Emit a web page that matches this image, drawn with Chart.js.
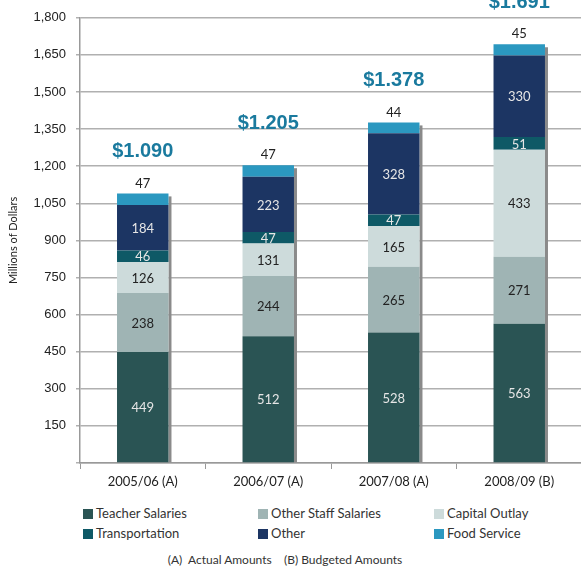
<!DOCTYPE html>
<html>
<head>
<meta charset="utf-8">
<script src="https://cdn.jsdelivr.net/npm/chart.js@4.4.0/dist/chart.umd.min.js"></script>
<style>
  html, body { margin: 0; padding: 0; background: #fff; overflow: hidden; }
  #wrap { position: relative; width: 582px; height: 500px; }
  #legend { position: absolute; left: 0; top: 504px; width: 581px; height: 44px; font-family: Lato, sans-serif; font-size: 13px; color: #333; }
  .item { position: absolute; height: 18px; line-height: 18px; white-space: nowrap; }
  .box { display: inline-block; width: 10px; height: 10px; margin-right: 3px; vertical-align: -1px; }
  #note { position: absolute; left: 0; top: 552px; width: 570px; text-align: center; font-family: Lato, sans-serif; font-size: 12px; color: #333; }
</style>
</head>
<body>
<div id="wrap"><canvas id="budget-chart"></canvas></div>
<div id="legend"></div>
<div id="note">(A)&nbsp; Actual Amounts &nbsp;&nbsp; (B) Budgeted Amounts</div>
<script>
var years = ['2005/06 (A)', '2006/07 (A)', '2007/08 (A)', '2008/09 (B)'];
var totals = ['$1.090', '$1.205', '$1.378', '$1.691'];
var seriesNames = ['Teacher Salaries', 'Other Staff Salaries', 'Capital Outlay', 'Transportation', 'Other', 'Food Service'];
var teacherSalaries = [449, 512, 528, 563];
var otherStaffSalaries = [238, 244, 265, 271];
var capitalOutlay = [126, 131, 165, 433];
var transportation = [46, 47, 47, 51];
var other = [184, 223, 328, 330];
var foodService = [47, 47, 44, 45];
var seriesColors = ['#2a5454', '#9fb4b4', '#cddbdb', '#0e5966', '#1c3563', '#2b98c0'];
// label colour inside each segment (light on dark fills, dark on light fills)
var labelColors = ['#e6e6e6', '#222', '#222', '#e6e6e6', '#e6e6e6', '#222'];

var seriesData = [teacherSalaries, otherStaffSalaries, capitalOutlay, transportation, other, foodService];

// shadow to the right of each stacked bar
var barShadow = {
    id: 'barShadow',
    beforeDatasetsDraw: function (chart) {
        var ctx = chart.ctx;
        var topMeta = chart.getDatasetMeta(chart.data.datasets.length - 1);
        var baseMeta = chart.getDatasetMeta(0);
        ctx.save();
        ctx.fillStyle = '#8a8a8a';
        for (var i = 0; i < topMeta.data.length; i++) {
            var top = topMeta.data[i];
            var base = baseMeta.data[i];
            var right = top.x + top.width / 2;
            ctx.fillRect(right, top.y + 3, 3, base.base - top.y - 3);
        }
        ctx.restore();
    }
};

var barLabels = {
    id: 'barLabels',
    afterDatasetsDraw: function (chart) {
        var ctx = chart.ctx;
        ctx.save();
        ctx.textAlign = 'center';
        ctx.textBaseline = 'middle';
        var last = chart.data.datasets.length - 1;
        chart.data.datasets.forEach(function (ds, d) {
            var meta = chart.getDatasetMeta(d);
            meta.data.forEach(function (bar, i) {
                ctx.fillStyle = labelColors[d];
                ctx.font = '13px Lato, sans-serif';
                if (d < last) {
                    ctx.fillText(ds.data[i], bar.x, (bar.y + bar.base) / 2 + 1);
                } else {
                    ctx.fillText(ds.data[i], bar.x, bar.y - 10);
                    ctx.fillStyle = '#1a7a9e';
                    ctx.font = 'bold 20px "Liberation Sans", Arial, sans-serif';
                    ctx.fillText(totals[i], bar.x, bar.y - 42);
                }
            });
        });
        ctx.restore();
    }
};

var datasets = [];
for (var s = 0; s < seriesNames.length; s++) {
    datasets.push({
        label: seriesNames[s],
        data: seriesData[s],
        backgroundColor: seriesColors[s],
        borderWidth: 0
    });
}

var ctx = document.getElementById('budget-chart').getContext('2d');
var budgetChart = new Chart(ctx, {
    type: 'bar',
    data: { labels: years, datasets: datasets },
    options: {
        responsive: true,
        maintainAspectRatio: false,
        animation: false,
        layout: { padding: { top: 10, right: 0, bottom: 0, left: 0 } },
        datasets: { bar: { categoryPercentage: 1, barPercentage: 0.41 } },
        plugins: {
            legend: { display: false },
            tooltip: { enabled: false }
        },
        scales: {
            x: {
                stacked: true,
                grid: { drawOnChartArea: false, color: '#999', tickLength: 6, offset: true },
                border: { color: '#999', width: 1.5 },
                ticks: { color: '#222', padding: 5, font: { family: 'Lato', size: 13 } },
                afterFit: function (scale) { scale.height = 37; }
            },
            y: {
                stacked: true,
                min: 0,
                max: 1800,
                grid: { color: '#b0b0b0', lineWidth: 1.5, tickLength: 4 },
                border: { color: '#999', width: 1.5 },
                ticks: {
                    stepSize: 150,
                    color: '#222',
                    padding: 10,
                    font: { family: 'Liberation Sans', size: 13 },
                    callback: function (v) { return v === 0 ? '' : v.toLocaleString('en-US'); }
                },
                title: {
                    display: true,
                    text: 'Millions of Dollars',
                    color: '#222',
                    padding: { top: 7, bottom: 0 },
                    font: { family: 'Lato', size: 11 }
                },
                afterFit: function (scale) { scale.width = 80; }
            }
        }
    },
    plugins: [barShadow, barLabels]
});

// legend in three columns
var legendEl = document.getElementById('legend');
var colX = [83, 258, 434];
for (var k = 0; k < seriesNames.length; k++) {
    var item = document.createElement('div');
    item.className = 'item';
    item.style.left = colX[k % 3] + 'px';
    item.style.top = (Math.floor(k / 3) * 20) + 'px';
    item.innerHTML = '<span class="box" style="background:' + seriesColors[k] + '"></span>' + seriesNames[k];
    legendEl.appendChild(item);
}
</script>
</body>
</html>
